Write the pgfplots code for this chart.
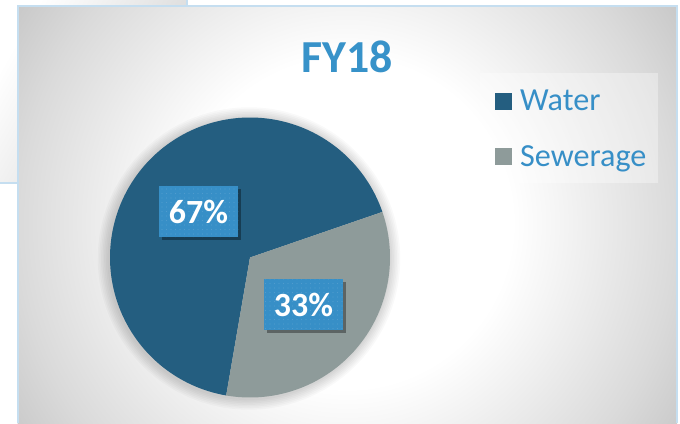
\documentclass[border=0pt]{standalone}
\usepackage{pgfplots}
\pgfplotsset{compat=1.18}
\usepackage{pgfplotstable}
\usepackage{fontspec}
\setmainfont{Carlito}
\usetikzlibrary{shadows,patterns.meta}
\definecolor{waterc}{RGB}{36,94,128}
\definecolor{sewc}{RGB}{142,155,154}
\definecolor{lblue}{RGB}{55,143,199}
\definecolor{tblue}{RGB}{55,146,201}
\definecolor{frameb}{RGB}{197,222,240}
% radial background at natural size (radii in bp)
\pgfdeclareradialshading{bgshade}{\pgfpoint{0bp}{0bp}}{color(0bp)=(white); color(165bp)=(white); color(211bp)=(black!4); color(330bp)=(black!14.5); color(392bp)=(black!21); color(400bp)=(black!21.5)}
\pgfplotstableread{
label value
Water 67
Sewerage 33
}\piedata
\pgfplotstablegetelem{0}{value}\of\piedata\let\vA\pgfplotsretval
\pgfplotstablegetelem{1}{value}\of\piedata\let\vB\pgfplotsretval
\pgfmathsetmacro{\aS}{19}
\pgfmathsetmacro{\aM}{\aS+\vA/(\vA+\vB)*360}
\pgfmathsetmacro{\aE}{\aS+360}
\def\cx{250}\def\cy{165.5}\def\rr{140}
\begin{document}%
\begin{tikzpicture}
\begin{axis}[
  scale only axis, width=680bp, height=423bp,
  xmin=0, xmax=680, ymin=0, ymax=423,
  hide axis, clip=false,
  legend cell align=left,
  legend style={at={(0.7279,0.787)}, anchor=north west, draw=none,
    fill=none, inner sep=0pt, row sep=33bp,
    nodes={inner sep=0pt},
    font=\fontsize{32.3}{38}\selectfont, text=lblue},
  legend image code/.code={\fill[#1] (0bp,-8.5bp) rectangle (17bp,8.5bp); \path (25bp,0bp);},
]
\coordinate (bl) at (axis cs:0,0);
\coordinate (tr) at (axis cs:680,423);
% ghost frame behind
\shade[overlay, left color=white, right color=black!18, shading angle=60]
  (axis cs:0,240) rectangle (axis cs:187,423);
\draw[overlay, frameb, line width=1.5bp] (axis cs:0,240) -- (axis cs:187,240) -- (axis cs:187,423);
% main frame
\begin{scope}
\clip (axis cs:17.5,0) rectangle (axis cs:677,417);
\node[overlay, inner sep=0pt, outer sep=0pt] at (axis cs:347,200) {\pgfuseshading{bgshade}};
\end{scope}
\draw[overlay, frameb, line width=2bp] (axis cs:17.5,0) -- (axis cs:17.5,417) -- (axis cs:677,417) -- (axis cs:677,0);
% legend background
\fill[white, opacity=0.35] (axis cs:480,240) rectangle (axis cs:658,350);
% soft shadow around the pie
\pgfplotsinvokeforeach{1,...,7}{
  \fill[black, opacity=0.025] (axis cs:\cx-1,\cy-1) circle[radius=\rr+#1*1.6];
}
\addplot[fill=waterc, draw=none, domain=\aS:\aM, samples=160, variable=\t]
  ({\cx+\rr*cos(\t)}, {\cy+\rr*sin(\t)}) -- (axis cs:\cx,\cy) -- cycle;
\addlegendentry{Water}
\addplot[fill=sewc, draw=none, domain=\aM:\aE, samples=100, variable=\t]
  ({\cx+\rr*cos(\t)}, {\cy+\rr*sin(\t)}) -- (axis cs:\cx,\cy) -- cycle;
\addlegendentry{Sewerage}
\node[font=\fontsize{46}{50}\selectfont\bfseries, text=tblue] at (axis cs:347.5,366) {FY18};
\tikzset{lbl/.style={fill=lblue, text=white, font=\fontsize{34}{40}\selectfont\bfseries,
  minimum width=79bp, minimum height=51bp, inner sep=0pt,
  drop shadow={shadow xshift=3bp, shadow yshift=-3bp, opacity=0.35, fill=black},
  postaction={pattern={Dots[distance=4.5bp, radius=0.7bp]}, pattern color=white!12!lblue}}}
\node[lbl] at (axis cs:198.5,211.5) {67\%};
\node[lbl] at (axis cs:303.5,118.5) {33\%};
\end{axis}
\pgfresetboundingbox
\useasboundingbox (bl) rectangle (tr);
\end{tikzpicture}%
\end{document}
